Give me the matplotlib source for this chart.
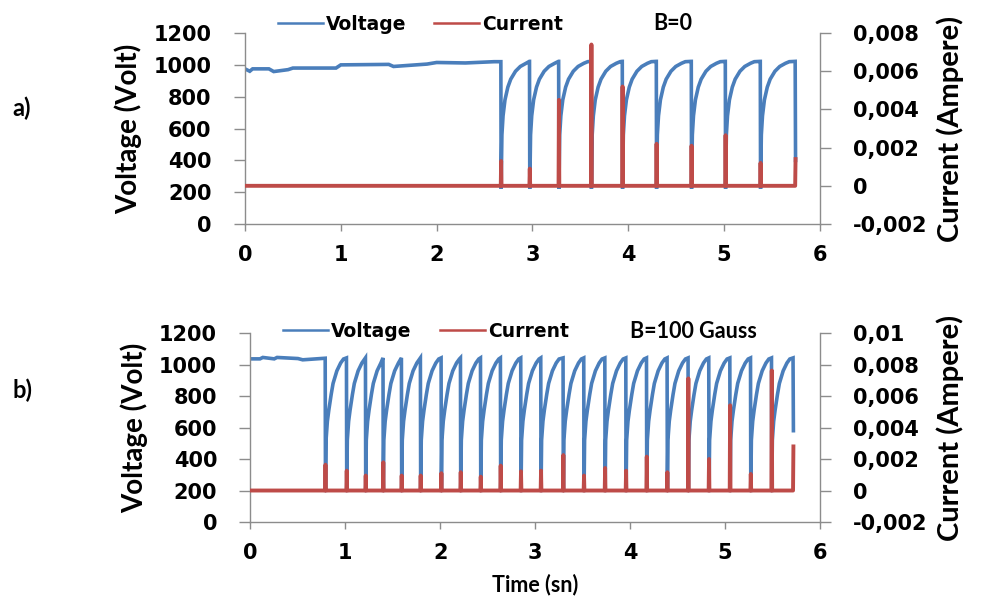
import matplotlib
matplotlib.use('Agg')
import matplotlib.pyplot as plt
from matplotlib.lines import Line2D
from matplotlib.ticker import FuncFormatter

# ---- data ----
# panel a) B=0
a_plateau_t = [0.0, 0.05, 0.08, 0.25, 0.30, 0.45, 0.50, 0.95, 1.00, 1.50, 1.55, 1.90, 2.00, 2.30, 2.60]
a_plateau_v = [975, 960, 975, 975, 958, 970, 980, 980, 1000, 1003, 990, 1005, 1015, 1012, 1020]
a_pulse_t = [2.673, 2.972, 3.276, 3.615, 3.94, 4.295, 4.66, 5.015, 5.38]
a_pulse_i = [0.0013, 0.0009, 0.0045, 0.0074, 0.0052, 0.0022, 0.0021, 0.00265, 0.0012]
a_end_t, a_end_v, a_end_i = 5.745, 400, 0.0014
a_dip_v = 222
a_rec_dt = [0.008, 0.02, 0.04, 0.07, 0.10, 0.15, 0.20, 0.26, 0.30]
a_rec_v = [560, 680, 780, 860, 910, 960, 990, 1010, 1020]
a_top_v = 1022

# panel b) B=100 Gauss
b_plateau_t = [0.0, 0.1, 0.13, 0.25, 0.28, 0.5, 0.55, 0.78]
b_plateau_v = [1036, 1036, 1045, 1036, 1045, 1038, 1030, 1040]
b_pulse_t = [0.79, 1.014, 1.214, 1.399, 1.593, 1.793, 2.011, 2.215, 2.426, 2.636,
             2.850, 3.061, 3.296, 3.514, 3.736, 3.957, 4.175, 4.392, 4.613, 4.831,
             5.053, 5.271, 5.492]
b_pulse_i = [0.00164, 0.00126, 0.00095, 0.00179, 0.00095, 0.00095, 0.0011, 0.00116,
             0.00088, 0.00158, 0.00122, 0.00126, 0.00225, 0.00095, 0.00143, 0.00126,
             0.00215, 0.00116, 0.00712, 0.0020, 0.00541, 0.00105, 0.00762]
b_end_t, b_end_v, b_end_i = 5.72, 580, 0.0028
b_dip_v = 190
b_rec_dt = [0.006, 0.02, 0.035, 0.06, 0.08, 0.12, 0.16, 0.19]
b_rec_v = [520, 640, 710, 810, 880, 960, 1010, 1035]
b_top_v = 1042

x_ticks = [0, 1, 2, 3, 4, 5, 6]
v_ticks = [0, 200, 400, 600, 800, 1000, 1200]
a_i_ticks = [-0.002, 0, 0.002, 0.004, 0.006, 0.008]
b_i_ticks = [-0.002, 0, 0.002, 0.004, 0.006, 0.008, 0.01]

BLUE = '#4a7ebb'
RED = '#be4b48'
GREY = '#8c8c8c'


def build_voltage(pl_t, pl_v, pulses, end_t, end_v, dip, rec_dt, rec_v, top_v):
    t, v = list(pl_t), list(pl_v)
    for k, tp in enumerate(pulses):
        t += [tp - 0.003, tp]
        v += [v[-1], dip]
        nxt = pulses[k + 1] if k + 1 < len(pulses) else end_t
        for dt, vv in zip(rec_dt, rec_v):
            if tp + dt < nxt - 0.01:
                t.append(tp + dt)
                v.append(vv)
        t.append(nxt - 0.004)
        v.append(top_v)
    t.append(end_t)
    v.append(end_v)
    return t, v


def build_current(pulses, peaks, end_t, end_i):
    t, i = [0.0], [0.0]
    for tp, pk in zip(pulses, peaks):
        t += [tp - 0.004, tp, tp + 0.004]
        i += [0.0, pk, 0.0]
    t += [end_t - 0.004, end_t]
    i += [0.0, end_i]
    return t, i


def comma_fmt(x, pos):
    x = round(x, 4)
    if x == 0:
        return '0'
    return ('%g' % x).replace('.', ',')


title_font = dict(family='Lato', weight='bold')


def draw_panel(rect, volt, curr, i_ticks, tag, tag_y, legend_y, b_text, b_x):
    ax = fig.add_axes(rect)
    ax2 = ax.twinx()
    ax.plot(*volt, color=BLUE, lw=2.6, solid_joinstyle='miter')
    ax2.plot(*curr, color=RED, lw=2.8)
    ax.set_xlim(0, 6)
    ax.set_ylim(0, 1200)
    ax2.set_ylim(i_ticks[0], i_ticks[-1])
    ax.set_xticks(x_ticks)
    ax.set_yticks(v_ticks)
    ax2.set_yticks(i_ticks)
    ax2.yaxis.set_major_formatter(FuncFormatter(comma_fmt))
    for a in (ax, ax2):
        for s in a.spines.values():
            s.set_visible(False)
        a.patch.set_visible(False)
    ax.spines['left'].set_visible(True)
    ax.spines['bottom'].set_visible(True)
    ax2.spines['right'].set_visible(True)
    for s in (ax.spines['left'], ax.spines['bottom'], ax2.spines['right']):
        s.set_color(GREY)
        s.set_linewidth(1.0)
    ax.tick_params(axis='y', direction='out', length=8, width=1, color=GREY, pad=16)
    ax.tick_params(axis='x', direction='out', length=5, width=1, color=GREY, pad=10)
    ax2.tick_params(axis='y', direction='out', length=8, width=1, color=GREY, pad=16)
    for lab in ax.get_xticklabels() + ax.get_yticklabels() + ax2.get_yticklabels():
        lab.set_fontfamily('DejaVu Sans')
        lab.set_fontweight('bold')
        lab.set_fontsize(15)
    ax.set_ylabel('Voltage (Volt)', fontsize=20, labelpad=8, **title_font)
    ax2.set_ylabel('Current (Ampere)', fontsize=21, labelpad=6, **title_font)

    handles = [Line2D([], [], color=BLUE, lw=1.8), Line2D([], [], color=RED, lw=1.8)]
    fig.legend(handles, ['Voltage', 'Current'], loc='center left',
               bbox_to_anchor=(rect[0] + 0.016, legend_y), ncol=2, frameon=False,
               handlelength=2.4, handletextpad=0.15, columnspacing=1.5,
               prop=dict(family='DejaVu Sans', weight='bold', size=13.5))
    fig.text(b_x, legend_y, b_text, ha='left', va='center', fontsize=15.5, **title_font)
    fig.text(0.012, tag_y, tag, ha='left', va='center', fontsize=17, **title_font)
    return ax, ax2


fig = plt.figure(figsize=(10.06, 6.03), dpi=100)

va = build_voltage(a_plateau_t, a_plateau_v, a_pulse_t, a_end_t, a_end_v, a_dip_v,
                   a_rec_dt, a_rec_v, a_top_v)
ia = build_current(a_pulse_t, a_pulse_i, a_end_t, a_end_i)
vb = build_voltage(b_plateau_t, b_plateau_v, b_pulse_t, b_end_t, b_end_v, b_dip_v,
                   b_rec_dt, b_rec_v, b_top_v)
ib = build_current(b_pulse_t, b_pulse_i, b_end_t, b_end_i)

draw_panel([0.2435, 0.6285, 0.5716, 0.3167], va, ia, a_i_ticks, 'a)',
           1 - 108 / 603, 1 - 24 / 603, 'B=0', 653 / 1006)
axb, _ = draw_panel([0.2490, 0.1343, 0.5661, 0.3134], vb, ib, b_i_ticks, 'b)',
                    1 - 390 / 603, 1 - 331 / 603, 'B=100 Gauss', 630 / 1006)
axb.set_xlabel('Time (sn)', fontsize=15.5, labelpad=8, **title_font)

fig.savefig('out.png', dpi=100)
